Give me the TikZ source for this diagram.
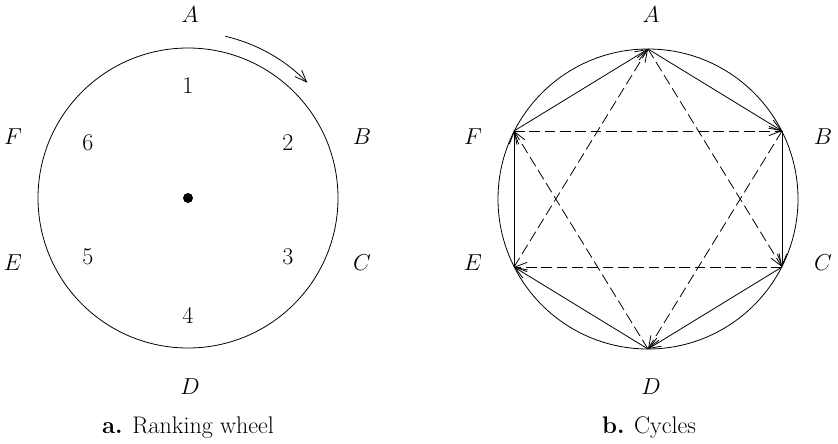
\documentclass[tikz,border=0pt]{standalone}
\usepackage{fontspec}
\usetikzlibrary{arrows.meta,calc}
\begin{document}
\begin{tikzpicture}[x=0.75pt,y=-0.75pt,
  lab/.style={font=\fontsize{18}{21}\selectfont, inner sep=0pt},
  captext/.style={font=\fontsize{18}{21}\selectfont, inner sep=0pt},
  ln/.style={line width=0.6pt},
  tip/.style={-{Straight Barb[length=9pt,width=7pt,line width=0.6pt]}},
  solidarrow/.style={ln, tip},
  dashedarrow/.style={ln, tip, dash pattern=on 8pt off 3.5pt}]
\useasboundingbox (0,0) rectangle (838,443);

% ---------- a. Ranking wheel ----------
\coordinate (c1) at (188,198);
\draw[ln] (c1) circle[radius=150];
\fill (c1) circle[radius=5];
\coordinate (arrS) at (225.3,36.3);
\draw[solidarrow] (arrS) arc[start angle=-77, end angle=-44, radius=166];

\node[lab] (la) at (190,15) {$A$};
\node[lab] (lb) at (362,137) {$B$};
\node[lab] (lc) at (362,263) {$C$};
\node[lab] (ld) at (190,387) {$D$};
\node[lab] (le) at (13,263) {$E$};
\node[lab] (lf) at (13,137) {$F$};

\node[lab] (n1) at (188,86) {1};
\node[lab] (n2) at (288,143) {2};
\node[lab] (n3) at (288,257) {3};
\node[lab] (n4) at (188,315) {4};
\node[lab] (n5) at (88,257) {5};
\node[lab] (n6) at (88,143) {6};

\node[captext] (capa) at (188,428) {\textbf{a.} Ranking wheel};

% ---------- b. Cycles ----------
\coordinate (c2) at (648,199);
\draw[ln] (c2) circle[radius=150];
\coordinate (A) at (648,49);
\coordinate (B) at (782,131);
\coordinate (C) at (782,267);
\coordinate (D) at (648,349);
\coordinate (E) at (514,267);
\coordinate (F) at (514,131);

% hexagon cycle
\draw[solidarrow] (F) -- (A);
\draw[solidarrow] (A) -- (B);
\draw[solidarrow] (B) -- (C);
\draw[solidarrow] (C) -- (D);
\draw[solidarrow] (D) -- (E);
\draw[solidarrow] (E) -- (F);
% triangles
\draw[dashedarrow] (A) -- (C);
\draw[dashedarrow] (C) -- (E);
\draw[dashedarrow] (E) -- (A);
\draw[dashedarrow] (F) -- (B);
\draw[dashedarrow] (B) -- (D);
\draw[dashedarrow] (D) -- (F);

\node[lab] (lA) at (651,15) {$A$};
\node[lab] (lB) at (823,137) {$B$};
\node[lab] (lC) at (823,263) {$C$};
\node[lab] (lD) at (651,387) {$D$};
\node[lab] (lE) at (473,263) {$E$};
\node[lab] (lF) at (473,137) {$F$};

\node[captext] (capb) at (649,428) {\textbf{b.} Cycles};
\end{tikzpicture}
\end{document}
